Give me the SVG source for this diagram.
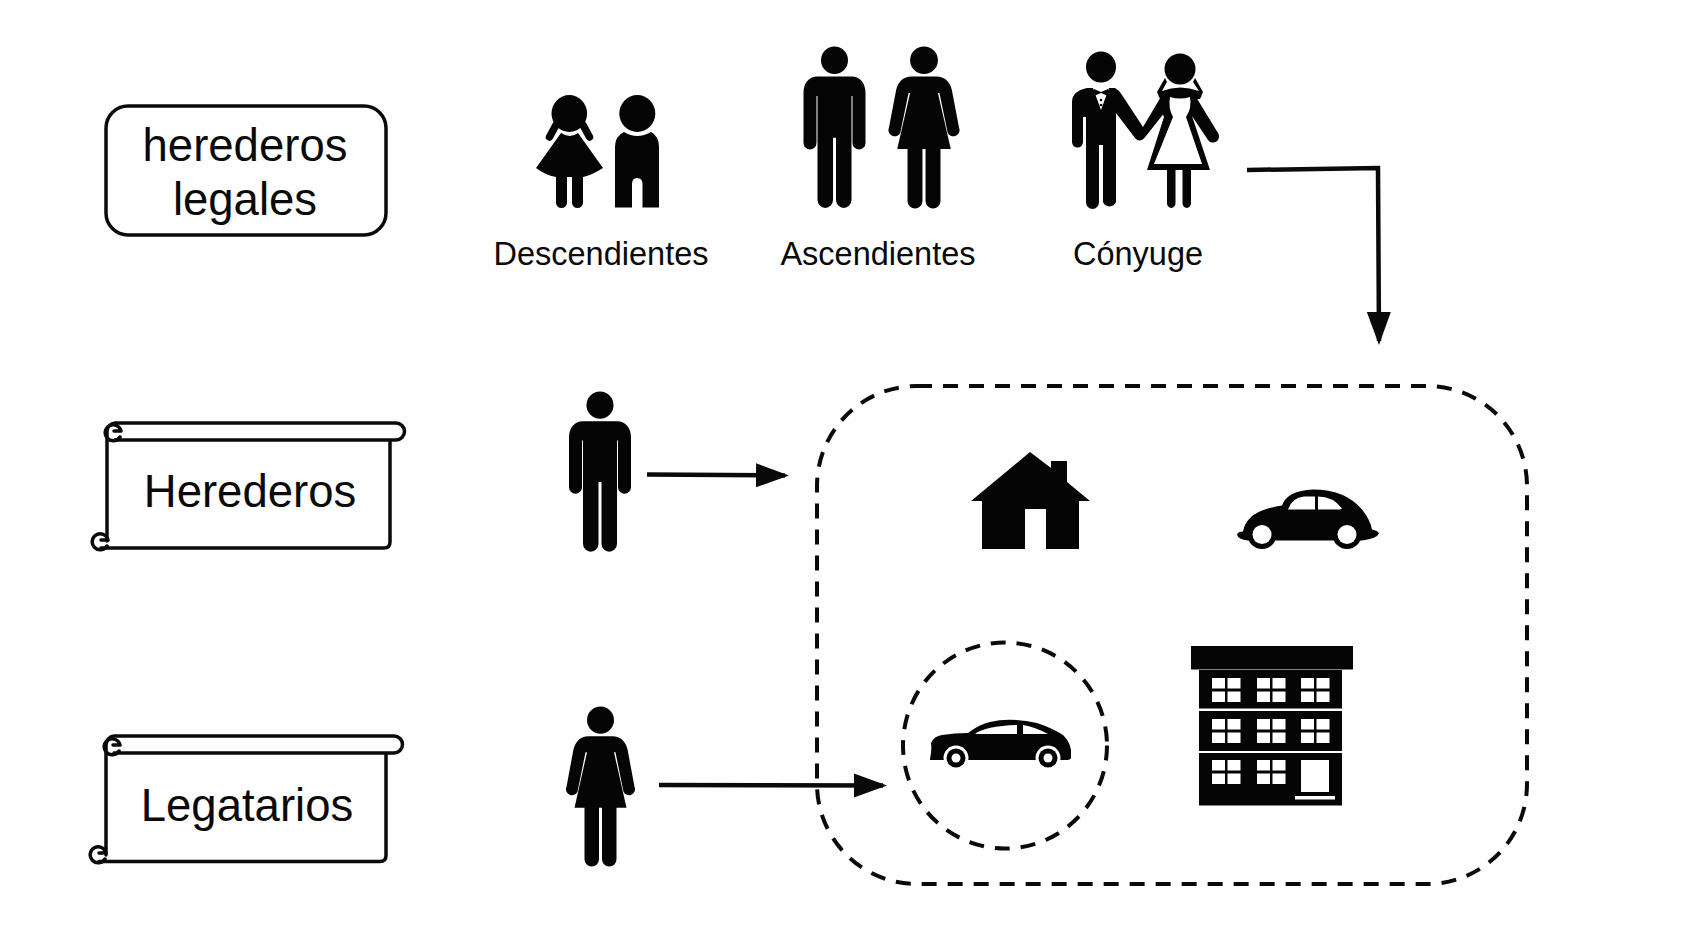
<svg xmlns="http://www.w3.org/2000/svg" width="1686" height="933" viewBox="0 0 1686 933">
<style>
.t{font-family:"Liberation Sans",Arial,sans-serif;fill:#0a0a0a;text-anchor:middle}
.big{font-size:45.500px}
.small{font-size:32.500px}
.ol{fill:none;stroke:#0a0a0a;stroke-width:3.500;stroke-linecap:round;stroke-linejoin:round}
.dash{fill:none;stroke:#0a0a0a;stroke-width:4;stroke-dasharray:15 11}
.conn{fill:none;stroke:#0a0a0a;stroke-width:4.500}
.k{fill:#050505}
.w{fill:#fff}
</style>
<defs>
<marker id="ah" markerUnits="userSpaceOnUse" markerWidth="36" markerHeight="26" refX="29" refY="12" orient="auto"><path d="M0,0L33,12L0,24Z" fill="#0a0a0a"/></marker>
<g id="man"><circle cx="0" cy="14" r="13.500"/><path d="M-17,30H17C26,30 31,37 31,46V95A6.500,6.500 0 0 1 18,95V49H17V151A7.750,7.750 0 0 1 1.500,151V90H-1.500V151A7.750,7.750 0 0 1 -17,151V49H-18V95A6.500,6.500 0 0 1 -31,95V46C-31,37 -26,30 -17,30Z"/></g>
<g id="woman"><circle cx="0" cy="14" r="13.500"/><path d="M-12,30H12C20,30 25,35 27,43L34,80A6,6 0 0 1 23,85L15,46L13.500,46L26,101H16V152A7.250,7.250 0 0 1 1.500,152V101H-1.500V152A7.250,7.250 0 0 1 -16,152V101H-26L-13.500,46L-15,46L-23,85A6,6 0 0 1 -34,80L-27,43C-25,35 -20,30 -12,30Z"/></g>
<g id="win"><rect x="0" y="0" width="13" height="10.500" class="w"/><rect x="15.500" y="0" width="13" height="10.500" class="w"/><rect x="0" y="13.500" width="13" height="10.500" class="w"/><rect x="15.500" y="13.500" width="13" height="10.500" class="w"/></g>
</defs>
<rect width="1686" height="933" fill="#fefefe"/>

<g id="node-herederos-legales">
<rect x="106" y="106" width="280" height="129" rx="22" class="ol"/>
<text class="t big" x="245" y="161">herederos</text>
<text class="t big" x="245" y="215">legales</text>
</g>

<g id="node-descendientes">
<g class="k">
<ellipse cx="569.300" cy="113.500" rx="17.800" ry="18.400"/>
<path d="M556,125L549.500,137" fill="none" stroke="#050505" stroke-width="7.500" stroke-linecap="round"/>
<path d="M583,125L589.500,137" fill="none" stroke="#050505" stroke-width="7.500" stroke-linecap="round"/>
<path d="M561,133Q570,139 578,133L603,168Q592,175 583,177V202.500A5.500,5.500 0 0 1 572,202.500V177H567V202.500A5.500,5.500 0 0 1 556,202.500V177Q545,175 536,168Z"/>
<ellipse cx="637.300" cy="113.500" rx="18" ry="18.400"/>
<path d="M624,132Q637,140 651,132Q659,136 659,147V207.500H642.500V184Q642.500,178 637,178Q632,178 632,184V207.500H615V147Q615,136 624,132Z"/>
</g>
<text class="t small" x="601" y="265">Descendientes</text>
</g>

<g id="node-ascendientes">
<use href="#man" class="k" transform="translate(834.500,46) scale(1,1.02)"/>
<use href="#woman" class="k" transform="translate(924,46) scale(1.03,1.02)"/>
<text class="t small" x="878" y="265">Ascendientes</text>
</g>

<g id="node-conyuge">
<g class="k">
<ellipse cx="1101" cy="67" rx="15" ry="15.500"/>
<path d="M1087,88H1115Q1119,90 1122,95L1143,127L1162,95L1165,112L1146,136Q1140,144 1135,138L1116,113V202A7,7 0 0 1 1103,202V145H1099V202A6.500,7 0 0 1 1086,202V117H1083V142A5.500,5.500 0 0 1 1072,142V102Q1072,91 1087,88Z"/>
<ellipse cx="1180" cy="69" rx="15.500" ry="15.500"/>
<path d="M1165,78L1157,92L1160,99H1200L1203,92L1195,78L1193,82L1199,91Q1180,84 1162,91L1167,82Z"/>
<path d="M1158,97L1202,97Q1180,86 1158,97Z"/>
<path d="M1161,97H1196L1218,133A5.500,5.500 0 0 1 1208,140L1192,116L1210,170H1147L1164,117L1161,110Z"/>
<path d="M1167,170H1175.500V203A4.250,5 0 0 1 1167,203ZM1182.500,170H1191V203A4.250,5 0 0 1 1182.500,203Z"/>
</g>
<path d="M1170,97Q1180,100 1190,97Q1192,108 1186,117L1202,164H1154L1173,117Q1168,108 1170,97Z" class="w"/>
<path d="M1093,88L1101,110L1109,88Z" class="w"/>
<path d="M1094,89L1101,92L1108,89V96L1101,93L1094,96Z" class="k"/>
<circle cx="1101" cy="100" r="1.300" class="k"/><circle cx="1101" cy="105" r="1.300" class="k"/>
<text class="t small" x="1138" y="265">Cónyuge</text>
</g>

<g id="node-herederos">
<path class="ol" d="M107,431V541M115,423H396A8.500,8.500 0 0 1 396,440H115M115,423A9,9 0 0 0 107,431M101,548H384Q390,548 390,542V440"/>
<path class="ol" d="M120,437A8,8 0 1 1 121,431H114M107,546A8,8 0 1 1 108,540H101"/>
<text class="t big" x="250" y="507">Herederos</text>
</g>
<g id="node-legatarios">
<path class="ol" d="M106,745V855M114,736H394A8.500,8.500 0 0 1 394,753H114M114,736A9,9 0 0 0 106,745M99,861.500H380Q386,861.500 386,855.500V753"/>
<path class="ol" d="M119,751A8,8 0 1 1 120,745H113M105,859A8,8 0 1 1 106,853H99"/>
<text class="t big" x="247" y="821">Legatarios</text>
</g>

<g id="node-heredero"><use href="#man" class="k" transform="translate(600,391) scale(1,1.012)"/></g>
<g id="node-legatario"><use href="#woman" class="k" transform="translate(600.500,706) scale(1,1.008)"/></g>

<g id="node-patrimonio"><rect x="817" y="386" width="710" height="498" rx="100" class="dash"/></g>
<g id="node-legado"><ellipse cx="1005" cy="745.500" rx="102" ry="103" class="dash"/></g>

<g id="node-casa"><path class="k" fill-rule="evenodd" d="M1030,452L1051,468V461H1067V482L1090,501H1079V549H1046V509H1025V549H982V501H971Z"/></g>

<g id="node-escarabajo" transform="translate(0,1.500)">
<path class="k" d="M1237,533Q1238,530 1243,530Q1246,513 1268,507Q1275,505 1282,504Q1287,489 1313,488Q1345,488 1362,508Q1370,518 1372,528Q1378,529 1379,532Q1377,537 1362,539H1248Q1238,538 1237,533Z"/>
<circle cx="1262" cy="533" r="14.500" class="k"/><circle cx="1347" cy="533" r="14.500" class="k"/>
<circle cx="1262" cy="533" r="9.500" class="w"/><circle cx="1347" cy="533" r="9.500" class="w"/>
<path class="w" d="M1288,508Q1292,496 1304,495H1315V508ZM1318,495Q1333,495 1342,507L1340,508H1318Z"/>
</g>

<g id="node-sedan">
<path class="k" d="M930,759Q932,750 931,743Q934,736 942,735Q955,733 968,733Q980,724 990,722Q1010,717 1037,723Q1052,728 1063,735Q1070,742 1071,750V758Q1070,760 1066,760H930Z"/>
<circle cx="956" cy="758" r="12.500" class="w"/><circle cx="1048" cy="758" r="12.500" class="w"/>
<circle cx="956" cy="758" r="9.500" class="k"/><circle cx="1048" cy="758" r="9.500" class="k"/>
<circle cx="956" cy="758" r="4.500" class="w"/><circle cx="1048" cy="758" r="4.500" class="w"/>
<path class="w" d="M975,734Q985,726 1017,725V734ZM1023,725Q1035,727 1048,734H1023Z"/>
</g>

<g id="node-edificio">
<rect x="1191" y="646" width="162" height="23.500" class="k"/>
<rect x="1199" y="670" width="143" height="38.500" class="k"/>
<rect x="1199" y="711" width="143" height="40" class="k"/>
<rect x="1199" y="753" width="143" height="52.500" class="k"/>
<use href="#win" x="1212" y="678"/><use href="#win" x="1257" y="678"/><use href="#win" x="1301" y="678"/>
<use href="#win" x="1212" y="719"/><use href="#win" x="1257" y="719"/><use href="#win" x="1301" y="719"/>
<use href="#win" x="1212" y="760"/><use href="#win" x="1257" y="760"/>
<rect x="1301" y="760" width="28" height="32" class="w"/>
<rect x="1295" y="796" width="40" height="3.500" class="w"/>
</g>

<g id="connectors">
<path class="conn" d="M1247,170L1378,168L1379,341" marker-end="url(#ah)"/>
<path class="conn" d="M647,474.500L785,475.500" marker-end="url(#ah)"/>
<path class="conn" d="M659,785L883,785.500" marker-end="url(#ah)"/>
</g>
</svg>
